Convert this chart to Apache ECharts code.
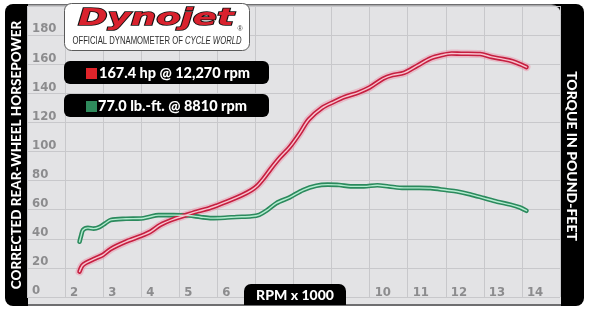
<!DOCTYPE html>
<html><head><meta charset="utf-8">
<script src="https://cdn.jsdelivr.net/npm/echarts@6/dist/echarts.min.js"></script>
<style>html,body{margin:0;padding:0;background:#fff}#c{width:590px;height:311px}</style>
</head><body><div id="c"></div>
<script>
// Horsepower curve (rpm x 1000, hp)
const hpRpm = [2.38, 2.45, 2.55, 2.8, 3.0, 3.2, 3.6, 4.0, 4.25, 4.5, 4.85, 5.2, 5.5, 5.75, 6.0, 6.25, 6.65, 6.9, 7.05, 7.2, 7.4, 7.65, 7.9, 8.15, 8.4, 8.75, 9.05, 9.35, 9.7, 10.0, 10.35, 10.6, 10.9, 11.25, 11.6, 11.9, 12.15, 12.4, 12.9, 13.2, 13.5, 13.75, 13.95, 14.12];
const hpVals = [17.5, 21.5, 23.5, 26.5, 29, 33, 38, 42, 45, 49.5, 53.5, 56.5, 59, 60.7, 63, 65.5, 70, 73.5, 76.5, 81, 88, 96, 103, 112, 122, 130, 134, 137.5, 140.5, 144, 150, 152.5, 154, 159, 164, 166.3, 167.4, 167.2, 167, 165, 163.5, 162, 160, 158];
// Torque curve (rpm x 1000, lb-ft)
const tqRpm = [2.38, 2.42, 2.47, 2.6, 2.75, 2.9, 3.05, 3.2, 3.6, 4.0, 4.2, 4.45, 4.85, 5.25, 5.55, 5.85, 6.2, 6.5, 6.9, 7.1, 7.3, 7.55, 7.9, 8.25, 8.6, 8.9, 9.2, 9.5, 9.85, 10.2, 10.5, 10.9, 11.3, 11.6, 12.0, 12.3, 12.65, 13.0, 13.35, 13.7, 13.95, 14.12];
const tqVals = [38, 42, 46, 47.5, 47, 48, 50.5, 53, 53.8, 54, 55, 56.3, 56.3, 56, 55, 54.2, 54.5, 55, 55.5, 56.5, 59.5, 64.5, 68.5, 73.5, 76.5, 77.2, 77, 76, 76, 76.8, 76, 75, 75, 74.8, 73.5, 72.5, 70.5, 68, 65.5, 63.5, 61.5, 59.3];
// Axis tick labels
const xHidden = [7, 8, 9, 15];
const yLabels = ['0','20','40','60','80','100','120','140','160','180'];
// Texts
const leftTitle = 'CORRECTED REAR-WHEEL HORSEPOWER';
const rightTitle = 'TORQUE IN POUND-FEET';
const xTitle = 'RPM x 1000';
const hpNote = '167.4 hp @ 12,270 rpm';
const tqNote = '77.0 lb.-ft. @ 8810 rpm';

const pair = (xs, ys) => xs.map((x, i) => [x, ys[i]]);
const tickFont = '"DejaVu Sans Condensed", Roboto, sans-serif';
const heavyFont = 'Lato, "Open Sans", sans-serif';

function curve(name, data, outer, inner, halo) {
  const out = [];
  if (halo) out.push({type:'line', data, smooth:0.3, showSymbol:false, silent:true, z:2,
    lineStyle:{color:halo, width:8, cap:'round'}});
  out.push({type:'line', name, data, smooth:0.3, showSymbol:false, silent:true, z:3,
    lineStyle:{color:outer, width:4.6, cap:'round'}});
  out.push({type:'line', data, smooth:0.3, showSymbol:false, silent:true, z:4,
    lineStyle:{color:inner, width:1.4, cap:'round'}});
  return out;
}

const chart = echarts.init(document.getElementById('c'), null, {renderer:'canvas'});
chart.setOption({
  animation:false,
  backgroundColor:'#ffffff',
  grid:{left:27, right:30, top:6, bottom:14, containLabel:false},
  xAxis:{type:'value', min:1, max:15, interval:1,
    axisLine:{show:false}, axisTick:{show:false},
    splitLine:{show:true, lineStyle:{color:'#c8c8cb', width:1}},
    axisLabel:{inside:true, margin:4, align:'left', verticalAlign:'middle', padding:[0,0,0,5],
      color:'#8c8c8e', fontFamily:tickFont, fontWeight:'bold', fontSize:13,
      formatter:v => v === 1 ? '' : (xHidden.includes(v) ? '' : String(v))}},
  yAxis:{type:'value', min:0, max:200, interval:20,
    axisLine:{show:false}, axisTick:{show:false},
    splitLine:{show:true, lineStyle:{color:'#c8c8cb', width:1}},
    axisLabel:{inside:true, margin:5, align:'left', verticalAlign:'bottom', lineHeight:12,
      color:'#8c8c8e', fontFamily:tickFont, fontWeight:'bold', fontSize:13,
      formatter:v => yLabels[v/20] || ''}},
  series:[
    ...curve('Torque', pair(tqRpm, tqVals), '#2b8a5d', '#b4ecd0', null),
    ...curve('Horsepower', pair(hpRpm, hpVals), '#c61f40', '#f7c3ce', 'rgba(235,140,165,0.45)')
  ],
  graphic:[
    // frame background
    {type:'rect', z:-10, shape:{x:5, y:4, width:36, height:302, r:8}, style:{fill:'#000'}},
    {type:'rect', z:-10, shape:{x:540, y:4, width:44, height:302, r:8}, style:{fill:'#000'}},
    {type:'rect', z:-9, shape:{x:28, y:4, width:533, height:302, r:[0,10,0,0]}, style:{fill:'#6e6e70'}},
    {type:'rect', z:-8, shape:{x:28, y:5.5, width:533, height:298.5, r:[0,9,0,0]}, style:{fill:'#e3e3e5'}},
    // axis titles
    {type:'text', z:50, x:17, y:155, rotation:Math.PI/2,
      style:{text:leftTitle, fill:'#fff', font:'900 13.5px '+heavyFont, align:'center', verticalAlign:'middle'}},
    {type:'text', z:50, x:572, y:156, rotation:-Math.PI/2,
      style:{text:rightTitle, fill:'#fff', font:'900 14px '+heavyFont, align:'center', verticalAlign:'middle'}},
    // RPM box
    {type:'rect', z:50, shape:{x:244, y:284, width:102, height:21, r:[7,7,0,0]}, style:{fill:'#000'}},
    {type:'text', z:51, x:295, y:295.5,
      style:{text:xTitle, fill:'#fff', font:'900 14px '+heavyFont, align:'center', verticalAlign:'middle'}},
    // logo box
    {type:'rect', z:50, shape:{x:64.5, y:3.5, width:185, height:47, r:7}, style:{fill:'#fff', stroke:'#5a5a5a', lineWidth:1}},
    {type:'text', z:51, x:156, y:19, scaleX:1.55,
      style:{text:'Dynojet', fill:'#d9222e', stroke:'#111', lineWidth:1.5, font:'italic bold 23px "DejaVu Sans", sans-serif', align:'center', verticalAlign:'middle'}},
    {type:'text', z:51, x:240, y:29,
      style:{text:'®', fill:'#333', font:'7px sans-serif', align:'center', verticalAlign:'middle'}},
    {type:'text', z:51, x:157, y:41, scaleX:0.67,
      style:{text:'{a|OFFICIAL DYNAMOMETER OF }{b|CYCLE WORLD}', align:'center', verticalAlign:'middle',
        rich:{a:{fill:'#2e2e2e', font:'11.5px "Liberation Sans", sans-serif'}, b:{fill:'#2e2e2e', font:'italic 11.5px "Liberation Sans", sans-serif'}}}},
    // notes
    {type:'rect', z:50, shape:{x:64, y:61, width:205, height:23, r:6}, style:{fill:'#000'}},
    {type:'rect', z:51, shape:{x:86, y:68, width:11, height:11}, style:{fill:'#e0242a'}},
    {type:'text', z:51, x:99, y:73.5,
      style:{text:hpNote, fill:'#fff', font:'900 14.5px '+heavyFont, align:'left', verticalAlign:'middle'}},
    {type:'rect', z:50, shape:{x:64, y:94, width:205, height:23, r:6}, style:{fill:'#000'}},
    {type:'rect', z:51, shape:{x:86, y:101, width:11, height:11}, style:{fill:'#2f8a5c'}},
    {type:'text', z:51, x:98, y:106.5,
      style:{text:tqNote, fill:'#fff', font:'900 14.5px '+heavyFont, align:'left', verticalAlign:'middle'}}
  ]
});
</script></body></html>
